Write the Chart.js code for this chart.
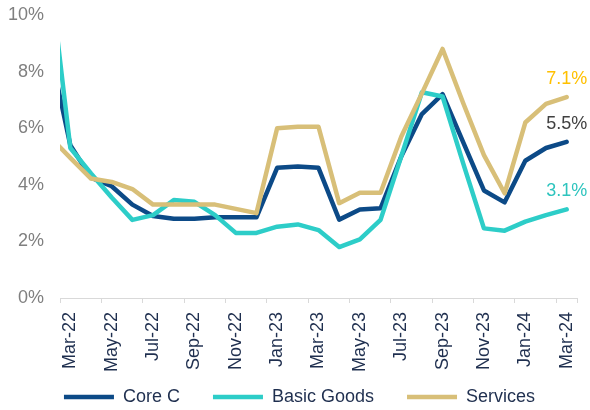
<!DOCTYPE html>
<html>
<head>
<meta charset="utf-8">
<script src="https://cdn.jsdelivr.net/npm/chart.js@4.4.1/dist/chart.umd.min.js"></script>
<style>
  html, body { margin: 0; padding: 0; background: #fff; }
</style>
</head>
<body>
<canvas id="inflChart" width="590" height="410"></canvas>
<script>
// months (Feb-22 sits just left of the plot and is clipped, as in the source)
const months = ["Feb-22", "Mar-22", "Apr-22", "May-22", "Jun-22", "Jul-22", "Aug-22", "Sep-22", "Oct-22", "Nov-22", "Dec-22",
    "Jan-23", "Feb-23", "Mar-23", "Apr-23", "May-23", "Jun-23", "Jul-23", "Aug-23", "Sep-23", "Oct-23", "Nov-23", "Dec-23",
    "Jan-24", "Feb-24", "Mar-24"];
const tickLabels = ["Mar-22", "May-22", "Jul-22", "Sep-22", "Nov-22", "Jan-23", "Mar-23", "May-23", "Jul-23", "Sep-23", "Nov-23", "Jan-24", "Mar-24"];

const coreC = [8.8, 5.4, 4.25, 3.95, 3.3, 2.9, 2.8, 2.8, 2.85, 2.85, 2.85,
    4.6, 4.65, 4.6, 2.77, 3.13, 3.17, 5.0, 6.5, 7.2, 5.5, 3.8, 3.38,
    4.85, 5.3, 5.52];
const basicGoods = [11.5, 5.3, 4.4, 3.55, 2.76, 2.93, 3.46, 3.4, 2.93, 2.3, 2.3,
    2.52, 2.6, 2.4, 1.8, 2.07, 2.76, 5.0, 7.27, 7.12, 4.75, 2.46, 2.38,
    2.7, 2.93, 3.13];
const services = [5.71, 4.95, 4.22, 4.1, 3.85, 3.3, 3.3, 3.3, 3.3, 3.15, 3.0,
    6.0, 6.05, 6.05, 3.35, 3.72, 3.72, 5.7, 7.23, 8.8, 6.88, 5.05, 3.7,
    6.2, 6.86, 7.1];

const TEXT = "#1F2F4F";
const FONT = '"Liberation Sans", Arial, sans-serif';
const endLabelColors = { "Core C": "#404040", "Basic Goods": "#2EC4BE", "Services": "#FFC000" };

Chart.defaults.font.family = FONT;

// prints the latest value above the end of each line
const endLabels = {
    id: "endLabels",
    afterDatasetsDraw(chart) {
        const ctx = chart.ctx;
        ctx.save();
        ctx.font = "18px " + FONT;
        ctx.textAlign = "center";
        ctx.textBaseline = "bottom";
        chart.data.datasets.forEach((ds, i) => {
            const pts = chart.getDatasetMeta(i).data;
            const last = pts[pts.length - 1];
            const v = ds.data[ds.data.length - 1];
            ctx.fillStyle = endLabelColors[ds.label];
            ctx.fillText(v.toFixed(1) + "%", last.x, last.y - 9);
        });
        ctx.restore();
    }
};

// legend sits a bit higher / further right than chart.js would put it
const legendShift = {
    id: "legendShift",
    afterLayout(chart) {
        const lg = chart.legend;
        lg.left += 11; lg.right += 11;
        lg.top -= 18; lg.bottom += 6;
    }
};

function line(label, data, color, order) {
    return {
        label, data, order,
        borderColor: color,
        backgroundColor: color,
        borderWidth: 4.5,
        pointRadius: 0,
        tension: 0,
        fill: false,
        borderJoinStyle: "round",
        borderCapStyle: "round",
        clip: 0,
    };
}

const everyOther = (c) => (c.index % 2 ? "rgba(0,0,0,0)" : "#D9D9D9");

new Chart(document.getElementById("inflChart"), {
    type: "line",
    data: {
        labels: months,
        datasets: [
            line("Core C", coreC, "#0C4A87", 3),
            line("Basic Goods", basicGoods, "#2DCDC8", 2),
            line("Services", services, "#D8BF78", 1),
        ],
    },
    options: {
        responsive: false,
        animation: false,
        layout: { padding: { left: 0, right: 13, top: 15, bottom: 0 } },
        plugins: {
            legend: {
                position: "bottom",
                reverse: true,
                maxHeight: 37,
                labels: {
                    usePointStyle: true,
                    pointStyle: "line",
                    pointStyleWidth: 50,
                    padding: 33,
                    color: TEXT,
                    font: { size: 18 },
                },
            },
            tooltip: { enabled: false },
        },
        scales: {
            x: {
                type: "category",
                min: "Mar-22",
                offset: true,
                grid: { offset: true, drawOnChartArea: false, tickLength: 5, color: everyOther, tickColor: everyOther },
                border: { color: "#D9D9D9" },
                ticks: {
                    autoSkip: false,
                    maxRotation: 90,
                    minRotation: 90,
                    padding: 9,
                    color: TEXT,
                    font: { size: 18 },
                    callback: function (value) {
                        const lab = this.getLabelForValue(value);
                        return tickLabels.includes(lab) ? lab : "";
                    },
                },
                afterFit: (s) => { s.height = 75; s.paddingLeft = 0; s.paddingRight = 0; },
            },
            y: {
                min: 0,
                max: 10,
                grid: { drawOnChartArea: false, tickLength: 16, tickColor: "rgba(0,0,0,0)" },
                border: { display: false },
                ticks: { stepSize: 2, padding: 0, color: "#7F7F7F", font: { size: 18 }, callback: (v) => v + "%" },
                afterFit: (s) => { s.width = 60; },
            },
        },
    },
    plugins: [endLabels, legendShift],
});
</script>
</body>
</html>
